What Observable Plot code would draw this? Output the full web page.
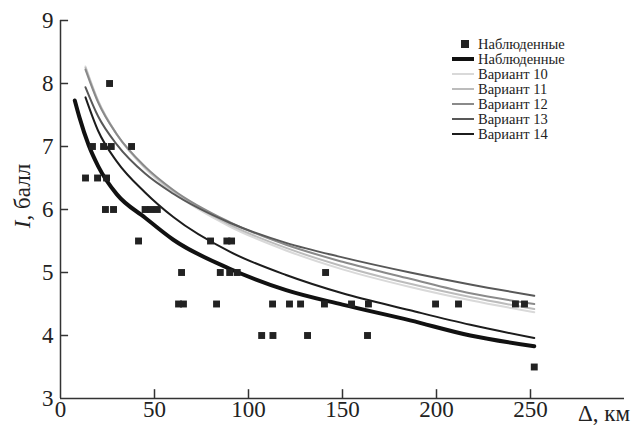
<!DOCTYPE html>
<html>
<head>
<meta charset="utf-8">
<script src="https://cdn.jsdelivr.net/npm/d3@7"></script>
<script src="https://cdn.jsdelivr.net/npm/@observablehq/plot@0.6"></script>
<style>
  body { margin: 0; background: #fff; }
  #chart { width: 641px; height: 426px; }
  #chart svg text { font-family: "Liberation Serif", "Times New Roman", Times, serif; }
</style>
</head>
<body>
<div id="chart"></div>
<script>
// Observed macroseismic intensities: epicentral distance (km) and intensity (points)
const obsDist = [26.1, 17.0, 22.9, 27.0, 37.8, 13.3, 19.7, 24.5,
  23.9, 28.2, 45.0, 48.0, 51.5, 41.5, 79.8, 88.5, 91.0,
  64.4, 85.0, 90.0, 94.0, 141.0,
  62.8, 65.4, 83.0, 112.8, 121.8, 127.7, 140.4, 154.8, 163.8, 199.5, 211.7, 242.0, 246.8,
  107.0, 113.0, 131.4, 163.3, 252.0];
const obsInt = [8, 7, 7, 7, 7, 6.5, 6.5, 6.5,
  6, 6, 6, 6, 6, 5.5, 5.5, 5.5, 5.5,
  5, 5, 5, 5, 5,
  4.5, 4.5, 4.5, 4.5, 4.5, 4.5, 4.5, 4.5, 4.5, 4.5, 4.5, 4.5, 4.5,
  4, 4, 4, 4, 3.5];

// Attenuation curve fitted to the observations
const fitDist = [7.6, 10, 15, 20, 30, 45, 60, 90, 120, 150, 186, 218, 252];
const fitInt = [7.73, 7.47, 7.02, 6.69, 6.24, 5.87, 5.52, 5.06, 4.72, 4.49, 4.24, 4.00, 3.83];

// Model variants 10–14, sampled on a common distance grid
const variantDist = [13.3, 20, 30, 45, 60, 90, 120, 150, 186, 218, 252];
const variant10 = [8.27, 7.73, 7.19, 6.65, 6.27, 5.73, 5.35, 5.05, 4.77, 4.56, 4.37];
const variant11 = [8.25, 7.72, 7.19, 6.67, 6.29, 5.76, 5.39, 5.10, 4.82, 4.61, 4.42];
const variant12 = [8.22, 7.70, 7.19, 6.68, 6.31, 5.80, 5.44, 5.17, 4.90, 4.67, 4.50];
const variant13 = [7.94, 7.48, 7.03, 6.57, 6.25, 5.79, 5.47, 5.24, 5.00, 4.81, 4.63];
const variant14 = [7.78, 7.25, 6.76, 6.27, 5.88, 5.33, 4.96, 4.67, 4.40, 4.17, 3.96];

const variantNames = ["Вариант 10", "Вариант 11", "Вариант 12", "Вариант 13", "Вариант 14"];
const variantColors = ["#d9d9d9", "#bcbcbc", "#8a8a8a", "#585858", "#1c1c1c"];
const variantValues = [variant10, variant11, variant12, variant13, variant14];

const xTicks = [0, 50, 100, 150, 200, 250];
const yTicks = [3, 4, 5, 6, 7, 8, 9];

const observed = obsDist.map((d, i) => ({d, I: obsInt[i]}));
const fitted = fitDist.map((d, i) => ({d, I: fitInt[i]}));
const variants = variantValues.flatMap((vals, k) =>
  variantDist.map((d, i) => ({d, I: vals[i], name: variantNames[k]})));

const serif = "Liberation Serif, Times New Roman, serif";
const axisColor = "#333";

const plot = Plot.plot({
  width: 641,
  height: 426,
  marginLeft: 60,
  marginRight: 17,
  marginTop: 20,
  marginBottom: 28,
  style: {fontFamily: serif, fontSize: "22px", color: "#222", background: "#fff"},
  x: {domain: [0, 300]},
  y: {domain: [3, 9]},
  color: {domain: variantNames, range: variantColors},
  marks: [
    // frame axes
    Plot.ruleX([0], {y1: 3, y2: 9, stroke: axisColor, strokeWidth: 1.5}),
    Plot.ruleY([3], {x1: 0, x2: 300, stroke: axisColor, strokeWidth: 1.5}),
    // inward tick marks
    Plot.ruleY(yTicks.filter(t => t > 3), {x1: 0, x2: 4.3, stroke: axisColor, strokeWidth: 1.5}),
    Plot.ruleX(xTicks.filter(t => t > 0), {y1: 3, y2: 3.14, stroke: axisColor, strokeWidth: 1.5}),
    Plot.axisX(xTicks, {tickSize: 0, tickPadding: 2, label: null, fontSize: 23, tickFormat: d => String(d)}),
    Plot.axisY(yTicks, {tickSize: 0, tickPadding: 7, label: null, fontSize: 23, tickFormat: d => String(d)}),
    // model variants
    Plot.line(variants, {x: "d", y: "I", z: "name", stroke: "name", strokeWidth: 2, curve: "monotone-x"}),
    // fitted curve
    Plot.line(fitted, {x: "d", y: "I", stroke: "#111", strokeWidth: 4, curve: "monotone-x"}),
    // observations
    Plot.dot(observed, {x: "d", y: "I", symbol: "square", r: 3.9, fill: "#222", stroke: null})
  ]
});

const svg = d3.select(plot);

// axis titles
const yTitle = svg.append("text")
  .attr("transform", "translate(30,196) rotate(-90)")
  .attr("text-anchor", "middle")
  .attr("font-size", 23)
  .attr("fill", "#222");
yTitle.append("tspan").attr("font-style", "italic").text("I");
yTitle.append("tspan").text(", балл");

svg.append("text")
  .attr("x", 578).attr("y", 421)
  .attr("text-anchor", "start")
  .attr("font-size", 23)
  .attr("fill", "#222")
  .text("Δ, км");

// legend
const legendItems = [
  {label: "Наблюденные", type: "square", color: "#222"},
  {label: "Наблюденные", type: "line", color: "#111", width: 4},
  ...variantNames.map((n, i) => ({label: n, type: "line", color: variantColors[i], width: 2}))
];
const legend = svg.append("g").attr("font-size", 14.5).attr("fill", "#222").attr("text-anchor", "start");
legendItems.forEach((item, i) => {
  const y = 44 + i * 15;
  if (item.type === "square") {
    legend.append("rect").attr("x", 461).attr("y", y - 4).attr("width", 8).attr("height", 8).attr("fill", item.color);
  } else {
    legend.append("line").attr("x1", 452).attr("x2", 474).attr("y1", y).attr("y2", y)
      .attr("stroke", item.color).attr("stroke-width", item.width);
  }
  legend.append("text").attr("x", 478).attr("y", y).attr("dy", "0.35em").text(item.label);
});

document.getElementById("chart").append(plot);
</script>
</body>
</html>
